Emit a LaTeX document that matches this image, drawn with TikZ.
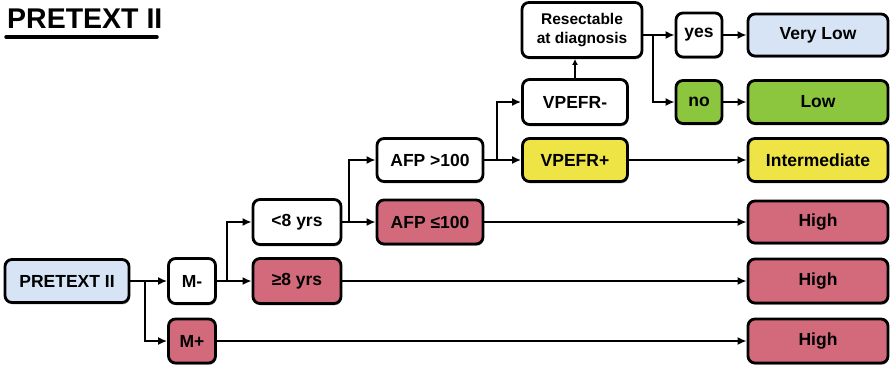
\documentclass[tikz,border=0pt]{standalone}
\usepackage{fontspec}
\setmainfont{Liberation Sans}
\usetikzlibrary{arrows.meta,shadows}
\definecolor{cblue}{HTML}{D6E4F5}
\definecolor{cred}{HTML}{D36A7C}
\definecolor{cyellow}{HTML}{EEE445}
\definecolor{cgreen}{HTML}{8CC63F}
\begin{document}
\begin{tikzpicture}[x=1pt,y=-1pt,
  box/.style={draw=black, line width=2.8pt, rounded corners=7pt, inner sep=0pt, fill=white,
    font=\fontsize{17.5}{19}\selectfont\bfseries,
    drop shadow={shadow xshift=0.8pt, shadow yshift=-1.8pt, opacity=0.3, fill=black}},
  conn/.style={line width=2.4pt, -{Latex[length=9pt,width=8pt]}},
  wire/.style={line width=2.4pt}]
\useasboundingbox (0,0) rectangle (894,368);

% title
\node[font=\fontsize{28.5}{30}\selectfont\bfseries, anchor=west, inner sep=0pt] (title) at (7,19) {PRETEXT II};
\draw[line width=3.5pt, line cap=round] (6,37) -- (157,37);

% nodes
\node[box, fill=cblue, minimum width=124pt, minimum height=43pt] (pre) at (67,281) {PRETEXT II};
\node[box, minimum width=47pt, minimum height=45pt] (mminus) at (192,281) {M-};
\node[box, fill=cred, minimum width=47pt, minimum height=44pt] (mplus) at (192,341) {M+};
\node[box, minimum width=88pt, minimum height=45pt] (lt8) at (297,222) {<8 yrs};
\node[box, fill=cred, minimum width=88pt, minimum height=45pt] (ge8) at (297,281) {≥8 yrs};
\node[box, minimum width=106pt, minimum height=43pt] (afpgt) at (430,160) {AFP >100};
\node[box, fill=cred, minimum width=106pt, minimum height=44pt] (afple) at (430,222) {AFP ≤100};
\node[box, minimum width=105pt, minimum height=45pt] (vminus) at (575,102) {VPEFR-};
\node[box, fill=cyellow, minimum width=105pt, minimum height=43pt] (vplus) at (575,160) {VPEFR+};
\node[box, minimum width=120pt, minimum height=55pt, align=center,
  font=\fontsize{15.5}{19}\selectfont\bfseries] (resect) at (582,30) {Resectable\\at diagnosis};
\node[box, minimum width=46pt, minimum height=44pt] (yes) at (699,35) {yes};
\node[box, fill=cgreen, minimum width=46pt, minimum height=43pt] (no) at (699,102) {no};
\node[box, fill=cblue, minimum width=140pt, minimum height=42pt] (vlow) at (818,35) {Very Low};
\node[box, fill=cgreen, minimum width=140pt, minimum height=43pt] (low) at (818,102) {Low};
\node[box, fill=cyellow, minimum width=140pt, minimum height=43pt] (inter) at (818,160) {Intermediate};
\node[box, fill=cred, minimum width=140pt, minimum height=42pt] (high1) at (818,222) {High};
\node[box, fill=cred, minimum width=140pt, minimum height=44pt] (high2) at (818,281) {High};
\node[box, fill=cred, minimum width=140pt, minimum height=44pt] (high3) at (818,341) {High};

% branch points
\coordinate (b1) at (145,281);
\coordinate (b2) at (227,281);
\coordinate (b3) at (349,222);
\coordinate (b4) at (497,160);
\coordinate (b5) at (653,35);

% connectors
\draw[conn] (pre.east) -- (mminus.west);
\draw[conn] (b1) |- (mplus.west);
\draw[conn] (mminus.east) -- (ge8.west);
\draw[conn] (b2) |- (lt8.west);
\draw[conn] (lt8.east) -- (afple.west);
\draw[conn] (b3) |- (afpgt.west);
\draw[conn] (afpgt.east) -- (vplus.west);
\draw[conn] (b4) |- (vminus.west);
\draw[conn] (resect.east |- yes.west) -- (yes.west);
\draw[conn] (b5) |- (no.west);
\draw[conn] (yes.east) -- (vlow.west);
\draw[conn] (no.east) -- (low.west);
\draw[conn] (vplus.east) -- (inter.west);
\draw[conn] (afple.east) -- (high1.west);
\draw[conn] (ge8.east) -- (high2.west);
\draw[conn] (mplus.east) -- (high3.west);
\draw[line width=1.8pt, -{Latex[length=6pt,width=6pt]}] (vminus.north) -- (vminus.north |- resect.south);
\end{tikzpicture}
\end{document}
